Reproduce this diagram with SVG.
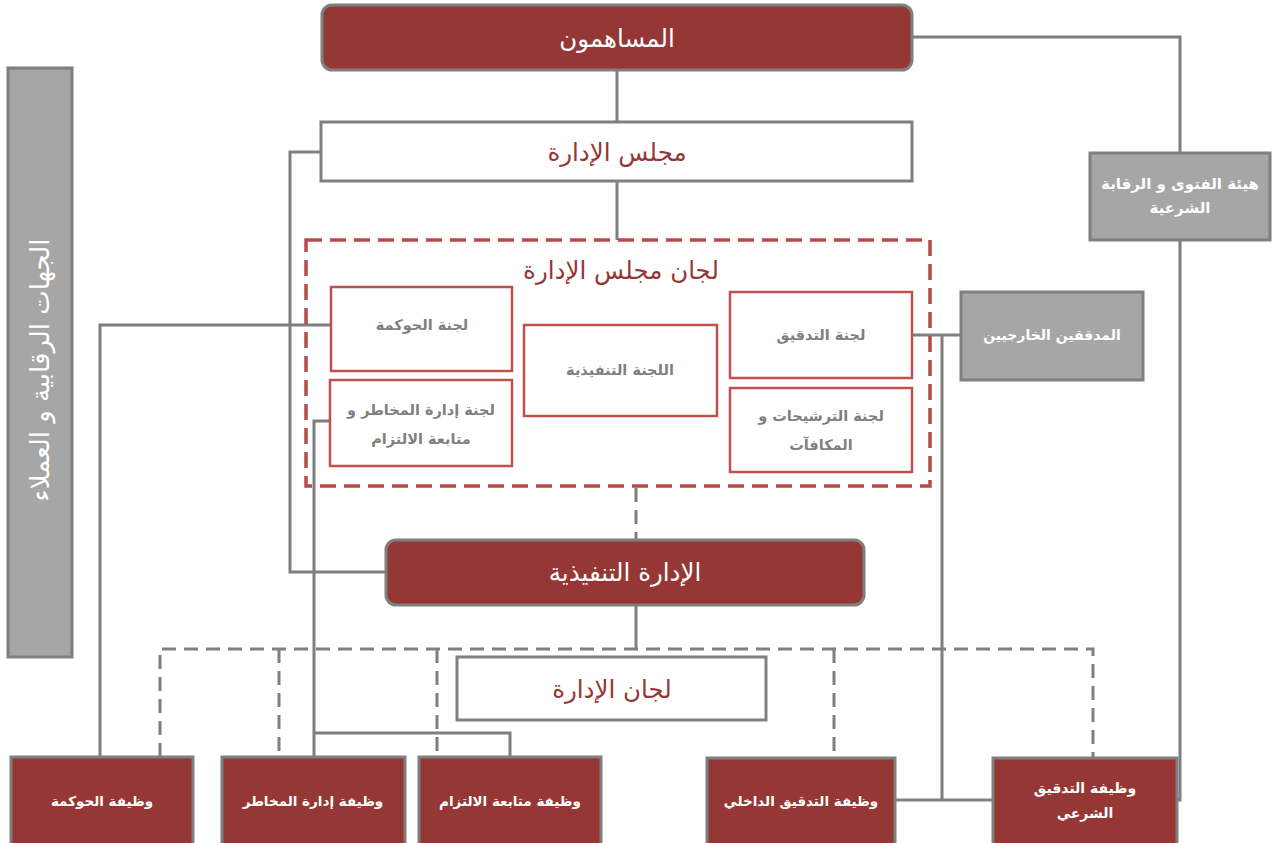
<svg xmlns="http://www.w3.org/2000/svg" width="1277" height="843" viewBox="0 0 1277 843">
<style>
.dark{fill:#953735;stroke:#7f7f7f;stroke-width:3}
.white{fill:#ffffff;stroke:#7f7f7f;stroke-width:3}
.gray{fill:#a6a6a6;stroke:#7f7f7f;stroke-width:3}
.comm{fill:#ffffff;stroke:#c0504d;stroke-width:2.5}
.ln{fill:none;stroke:#7f7f7f;stroke-width:3}
.dash{fill:none;stroke:#7f7f7f;stroke-width:3;stroke-dasharray:14 8}
.rdash{fill:none;stroke:#b84a4c;stroke-width:3.5;stroke-dasharray:16 8}
text{font-family:"DejaVu Sans","Liberation Sans",sans-serif;text-anchor:middle;dominant-baseline:central}
.big{font-size:24.5px}
.bw{fill:#ffffff}
.br{fill:#953735}
.sm{font-size:13.5px;font-weight:bold}
.md{font-size:14.5px;font-weight:bold}
.sg{fill:#7f7f7f}
</style>
<g id="connectors">
<polyline class="ln" points="617,70 617,122"/>
<polyline class="ln" points="617,181 617,240"/>
<polyline class="ln" points="912,37 1180,37 1180,153"/>
<polyline class="ln" points="1180,240 1180,800 1177,800"/>
<polyline class="ln" points="321,152 290,152 290,572 386,572"/>
<polyline class="ln" points="331,325 100,325 100,757"/>
<polyline class="ln" points="330,421 314,421 314,757"/>
<polyline class="ln" points="314,733 510,733 510,757"/>
<polyline class="ln" points="912,335 961,335"/>
<polyline class="ln" points="942,335 942,800"/>
<polyline class="ln" points="895,800 993,800"/>
<polyline class="dash" points="636,488 636,540"/>
<polyline class="ln" points="636,605 636,648"/>
<polyline class="dash" points="160,757 160,649 1093,649 1093,757"/>
<polyline class="dash" points="279,649 279,757"/>
<polyline class="dash" points="437,649 437,757"/>
<polyline class="dash" points="834,649 834,757"/>
</g>
<g id="regulators">
<rect class="gray" x="8" y="68" width="64" height="589"/>
<text class="bw" font-size="26" transform="translate(40,370) rotate(-90)">الجهات الرقابية و العملاء</text>
</g>
<g id="shareholders">
<rect class="dark" x="322" y="5" width="590" height="65" rx="10"/>
<text class="big bw" x="617" y="38">المساهمون</text>
</g>
<g id="board">
<rect class="white" x="321" y="122" width="591" height="59"/>
<text class="big br" x="617" y="152">مجلس الإدارة</text>
</g>
<g id="sharia-board">
<rect class="gray" x="1090" y="153" width="180" height="87"/>
<text class="bw" font-size="15" font-weight="bold" x="1180" y="184">هيئة الفتوى و الرقابة</text>
<text class="bw" font-size="15" font-weight="bold" x="1180" y="208">الشرعية</text>
</g>
<g id="board-committees">
<rect class="rdash" x="306" y="240" width="624" height="246"/>
<text class="big br" x="621" y="270">لجان مجلس الإدارة</text>
</g>
<g id="gov-committee">
<rect class="comm" x="331" y="287" width="181" height="84"/>
<text class="md sg" x="422" y="325">لجنة الحوكمة</text>
</g>
<g id="risk-committee">
<rect class="comm" x="330" y="380" width="182" height="86"/>
<text class="md sg" x="421" y="410">لجنة إدارة المخاطر و</text>
<text class="md sg" x="421" y="439">متابعة الالتزام</text>
</g>
<g id="exec-committee">
<rect class="comm" x="524" y="325" width="193" height="91"/>
<text class="md sg" x="620" y="370">اللجنة التنفيذية</text>
</g>
<g id="audit-committee">
<rect class="comm" x="730" y="292" width="182" height="86"/>
<text class="md sg" x="821" y="335">لجنة التدقيق</text>
</g>
<g id="nomination-committee">
<rect class="comm" x="730" y="388" width="182" height="84"/>
<text class="md sg" x="821" y="416">لجنة الترشيحات و</text>
<text class="md sg" x="821" y="445">المكافآت</text>
</g>
<g id="external-auditors">
<rect class="gray" x="961" y="292" width="182" height="88"/>
<text class="bw" font-size="14" font-weight="bold" x="1052" y="335">المدققين الخارجيين</text>
</g>
<g id="exec-management">
<rect class="dark" x="386" y="540" width="478" height="65" rx="10"/>
<text class="big bw" x="625" y="572">الإدارة التنفيذية</text>
</g>
<g id="management-committees">
<rect class="white" x="457" y="657" width="309" height="63"/>
<text class="big br" x="612" y="689">لجان الإدارة</text>
</g>
<g id="gov-function">
<rect class="dark" x="11" y="757" width="182" height="95"/>
<text class="sm bw" x="102" y="801">وظيفة الحوكمة</text>
</g>
<g id="risk-function">
<rect class="dark" x="222" y="757" width="183" height="95"/>
<text class="sm bw" x="313" y="801">وظيفة إدارة المخاطر</text>
</g>
<g id="compliance-function">
<rect class="dark" x="419" y="757" width="182" height="95"/>
<text class="sm bw" x="510" y="801">وظيفة متابعة الالتزام</text>
</g>
<g id="internal-audit-function">
<rect class="dark" x="707" y="758" width="188" height="95"/>
<text class="sm bw" x="801" y="801">وظيفة التدقيق الداخلي</text>
</g>
<g id="sharia-audit-function">
<rect class="dark" x="993" y="758" width="184" height="95"/>
<text class="bw" font-size="14" font-weight="bold" x="1085" y="788">وظيفة التدقيق</text>
<text class="bw" font-size="14" font-weight="bold" x="1085" y="813">الشرعي</text>
</g>
</svg>
